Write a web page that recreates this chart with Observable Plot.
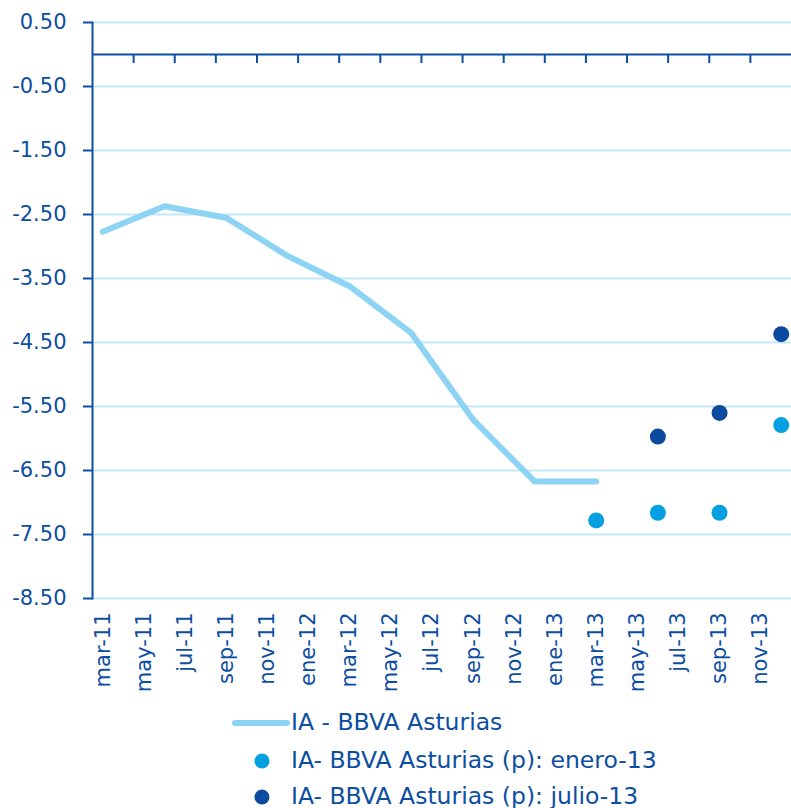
<!DOCTYPE html>
<html>
<head>
<meta charset="utf-8">
<script src="https://cdn.jsdelivr.net/npm/d3@7"></script>
<script src="https://cdn.jsdelivr.net/npm/@observablehq/plot@0.6"></script>
<style>
  body { margin: 0; background: #fff; font-family: "DejaVu Sans", sans-serif; overflow: hidden; }
  #wrap { position: relative; width: 791px; height: 808px; overflow: hidden; }
  .leg { position: absolute; left: 0; height: 36px;
         font-size: 23.5px; color: #0d4ea1; white-space: nowrap; }
  .leg .txt { position: absolute; left: 291px; top: 50%; transform: translateY(-54%); }
</style>
</head>
<body>
<div id="wrap"></div>
<script>
// ---- data ----
const monthNames = ["ene","feb","mar","abr","may","jun","jul","ago","sep","oct","nov","dic"];
const months = [];
for (let y = 11; y <= 13; y++) for (let m = 0; m < 12; m++) {
  if (y === 11 && m < 2) continue;
  months.push(`${monthNames[m]}-${y}`);
}
const tickLabels = months.filter((d, i) => i % 2 === 0);

const seriesNames = ["IA - BBVA Asturias", "IA- BBVA Asturias (p): enero-13", "IA- BBVA Asturias (p): julio-13"];
const lineMonths = ["mar-11","jun-11","sep-11","dic-11","mar-12","jun-12","sep-12","dic-12","mar-13"];
const lineValues = [-2.77, -2.37, -2.55, -3.15, -3.62, -4.35, -5.70, -6.67, -6.67];
const eneroMonths = ["mar-13","jun-13","sep-13","dic-13"];
const eneroValues = [-7.28, -7.16, -7.16, -5.79];
const julioMonths = ["jun-13","sep-13","dic-13"];
const julioValues = [-5.97, -5.60, -4.37];
const yTicks = [0.5, -0.5, -1.5, -2.5, -3.5, -4.5, -5.5, -6.5, -7.5, -8.5];

const idx = m => months.indexOf(m);
const lineData = lineMonths.map((m, i) => ({i: idx(m), v: lineValues[i]}));
const eneroData = eneroMonths.map((m, i) => ({i: idx(m), v: eneroValues[i]}));
const julioData = julioMonths.map((m, i) => ({i: idx(m), v: julioValues[i]}));
const labelIdx = tickLabels.map(idx);
const boundaryIdx = labelIdx.slice(1).map(i => i - 0.5);

// ---- style ----
const dark = "#0d4ea1";
const grid = "#c3e7f8";
const lineCol = "#8dd3f3";
const lightDot = "#05a0e2";
const darkDot = "#0b4a9e";

const W = 791, H = 700, mL = 92, mR = 0, mT = 22, mB = 102;
const pxPerUnit = (H - mT - mB) / 9;
const tickLen = 9 / pxPerUnit;

const plot = Plot.plot({
  width: W, height: H,
  marginLeft: mL, marginRight: mR, marginTop: mT, marginBottom: mB,
  style: { fontFamily: "DejaVu Sans, sans-serif", fontSize: "21px", color: dark, background: "white" },
  x: { type: "linear", domain: [-0.5, months.length - 0.5] },
  y: { domain: [-8.5, 0.5] },
  marks: [
    Plot.gridY(yTicks, { stroke: grid, strokeOpacity: 1, strokeWidth: 2 }),
    Plot.ruleY([0], { stroke: dark, strokeWidth: 2 }),
    Plot.ruleX(boundaryIdx, { x: d => d, y1: 0, y2: -tickLen, stroke: dark, strokeWidth: 2 }),
    Plot.axisY(yTicks, { tickFormat: d => d.toFixed(2), tickSize: 9, tickPadding: 17, stroke: dark, strokeWidth: 2, fill: dark, fontSize: 21, label: null }),
    Plot.frame({ anchor: "left", stroke: dark, strokeWidth: 2 }),
    Plot.axisX(labelIdx, { tickFormat: i => months[i], tickSize: 0, tickPadding: 14, tickRotate: -90, fill: dark, fontSize: 21, label: null }),
    Plot.line(lineData, { x: "i", y: "v", stroke: lineCol, strokeWidth: 6, strokeLinecap: "round", strokeLinejoin: "round" }),
    Plot.dot(eneroData, { x: "i", y: "v", r: 8, fill: lightDot }),
    Plot.dot(julioData, { x: "i", y: "v", r: 8, fill: darkDot })
  ]
});

const wrap = document.getElementById("wrap");
wrap.appendChild(plot);

// ---- legend ----
const legTops = [705, 743, 779];
seriesNames.forEach((name, i) => {
  const row = document.createElement("div");
  row.className = "leg";
  row.style.top = legTops[i] + "px";
  row.style.width = W + "px";
  const sw = document.createElementNS("http://www.w3.org/2000/svg", "svg");
  sw.setAttribute("width", 300); sw.setAttribute("height", 36);
  sw.style.position = "absolute"; sw.style.left = "0"; sw.style.top = "0";
  if (i === 0) {
    const l = document.createElementNS("http://www.w3.org/2000/svg", "line");
    l.setAttribute("x1", 235); l.setAttribute("x2", 287); l.setAttribute("y1", 18); l.setAttribute("y2", 18);
    l.setAttribute("stroke", lineCol); l.setAttribute("stroke-width", 6); l.setAttribute("stroke-linecap", "round");
    sw.appendChild(l);
  } else {
    const c = document.createElementNS("http://www.w3.org/2000/svg", "circle");
    c.setAttribute("cx", 262); c.setAttribute("cy", 18); c.setAttribute("r", 7.5);
    c.setAttribute("fill", i === 1 ? lightDot : darkDot);
    sw.appendChild(c);
  }
  row.appendChild(sw);
  const t = document.createElement("span");
  t.className = "txt";
  t.textContent = name;
  row.appendChild(t);
  wrap.appendChild(row);
});
</script>
</body>
</html>
